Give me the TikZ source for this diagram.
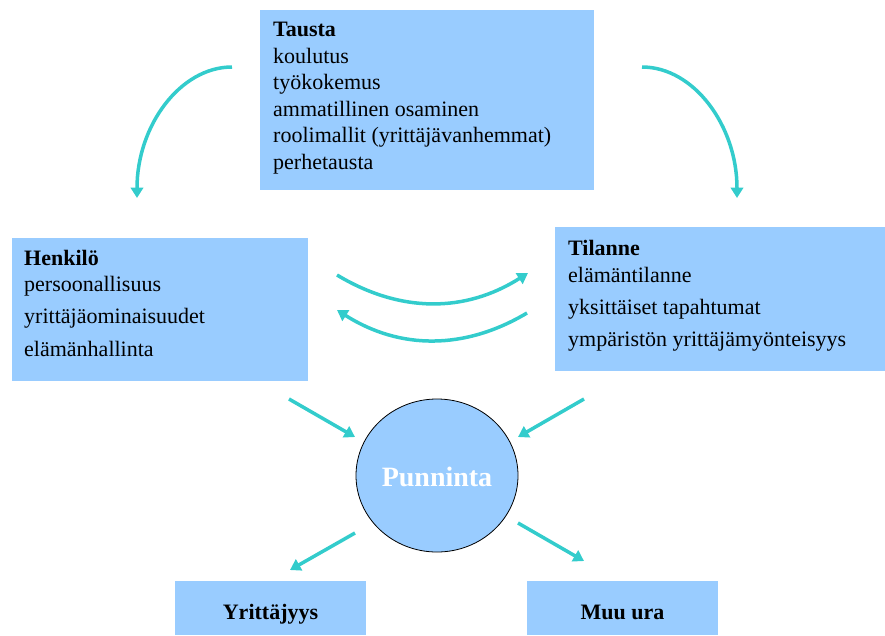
\documentclass[tikz,border=0pt]{standalone}
\usepackage{fontspec}
\setmainfont{Liberation Serif}
\usetikzlibrary{arrows.meta,shapes.geometric}
\definecolor{boxblue}{HTML}{99CCFF}
\definecolor{arrowteal}{HTML}{33CCCC}
\begin{document}
\begin{tikzpicture}[x=1pt,y=-1pt,
  panel/.style={fill=boxblue, draw=none, inner sep=0pt, anchor=north west},
  txt/.style={anchor=base west, inner sep=0pt, font=\fontsize{22}{26}\selectfont},
  head/.style={txt, font=\bfseries\fontsize{22}{26}\selectfont},
  outtxt/.style={anchor=base, inner sep=0pt, font=\bfseries\fontsize{22}{26}\selectfont},
  flow/.style={draw=arrowteal, line width=3.5pt, -{Triangle[width=12.5pt,length=10.5pt]}},
]
\useasboundingbox (0,0) rectangle (885,635);

% Tausta
\node[panel, minimum width=334pt, minimum height=180pt] (tausta) at (260,10) {};
\node[head] (ta0) at (273,36.5) {Tausta};
\node[txt] (ta1) at (273,63) {koulutus};
\node[txt] (ta2) at (273,89.5) {työkokemus};
\node[txt] (ta3) at (273,116) {ammatillinen osaminen};
\node[txt] (ta4) at (273,142.5) {roolimallit (yrittäjävanhemmat)};
\node[txt] (ta5) at (273,169) {perhetausta};

% Henkilo
\node[panel, minimum width=296pt, minimum height=143pt] (henk) at (12,238) {};
\node[head] (he0) at (24,265) {Henkilö};
\node[txt] (he1) at (24,291.7) {persoonallisuus};
\node[txt] (he2) at (24,323) {yrittäjäominaisuudet};
\node[txt] (he3) at (24,356) {elämänhallinta};

% Tilanne
\node[panel, minimum width=330pt, minimum height=144pt] (tila) at (555,227) {};
\node[head] (ti0) at (568,255.5) {Tilanne};
\node[txt] (ti1) at (568,282.3) {elämäntilanne};
\node[txt] (ti2) at (568,314) {yksittäiset tapahtumat};
\node[txt] (ti3) at (568,346) {ympäristön yrittäjämyönteisyys};

% Punninta
\node[ellipse, draw=black, line width=0.8pt, fill=boxblue, inner sep=0pt,
      minimum width=162pt, minimum height=153pt] (pun) at (437,475.5) {};
\node[anchor=base, inner sep=0pt, text=white, font=\bfseries\fontsize{28}{30}\selectfont] (puntxt) at (437,486) {Punninta};

% outcomes
\node[panel, minimum width=191pt, minimum height=54pt] (yrit) at (175,580.5) {};
\node[outtxt] (yrittxt) at (270.5,619.5) {Yrittäjyys};
\node[panel, minimum width=191pt, minimum height=54pt] (muu) at (527,580.5) {};
\node[outtxt] (muutxt) at (622.5,619.5) {Muu ura};

% curved arrows from Tausta
\coordinate (c1s) at (232,67);
\coordinate (c1e) at (137,198);
\coordinate (c2s) at (642,67);
\coordinate (c2e) at (737,198);
\draw[flow] (c1s) .. controls (180,67) and (137,126) .. (c1e);
\draw[flow] (c2s) .. controls (694,67) and (737,126) .. (c2e);

% arcs between Henkilo and Tilanne
\coordinate (a1s) at (337,275);
\coordinate (a1e) at (528,273);
\coordinate (a2s) at (527,313);
\coordinate (a2e) at (337,310);
\draw[flow] (a1s) .. controls (400,313) and (465,313) .. (a1e);
\draw[flow] (a2s) .. controls (465,350) and (400,350) .. (a2e);

% straight arrows
\coordinate (s1s) at (289,399);  \coordinate (s1e) at (355,437);
\coordinate (s2s) at (584,399);  \coordinate (s2e) at (518,437);
\coordinate (s3s) at (355,533);  \coordinate (s3e) at (290,570);
\coordinate (s4s) at (518,523);  \coordinate (s4e) at (584,561);
\draw[flow] (s1s) -- (s1e);
\draw[flow] (s2s) -- (s2e);
\draw[flow] (s3s) -- (s3e);
\draw[flow] (s4s) -- (s4e);
\end{tikzpicture}
\end{document}
